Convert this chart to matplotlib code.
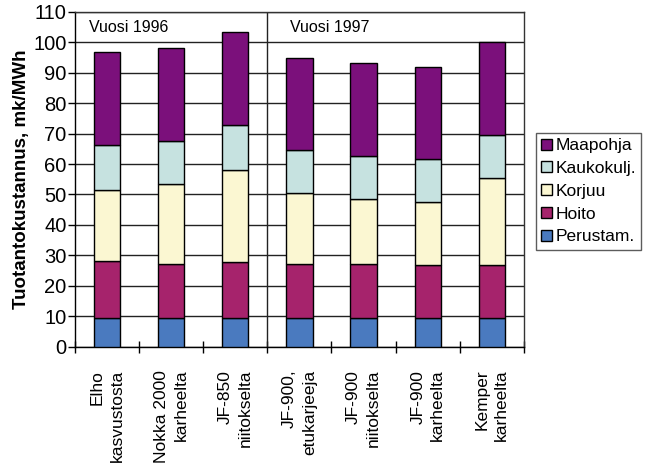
import matplotlib.pyplot as plt
from matplotlib.patches import Patch
import numpy as np

plt.rcParams['font.family'] = ['Liberation Sans', 'DejaVu Sans']

kategoriat = ['Elho\nkasvustosta', 'Nokka 2000\nkarheelta', 'JF-850\nniitokselta',
              'JF-900,\netukarjeeja', 'JF-900\nniitokselta', 'JF-900\nkarheelta',
              'Kemper\nkarheelta']

perustam = [9.6, 9.6, 9.6, 9.6, 9.5, 9.4, 9.4]
hoito = [18.5, 17.6, 18.3, 17.5, 17.6, 17.5, 17.6]
korjuu = [23.4, 26.2, 30.1, 23.3, 21.3, 20.6, 28.5]
kaukokulj = [14.7, 14.2, 14.8, 14.1, 14.3, 14.1, 13.9]
maapohja = [30.4, 30.4, 30.4, 30.4, 30.3, 30.2, 30.5]

sarjat = ['Perustam.', 'Hoito', 'Korjuu', 'Kaukokulj.', 'Maapohja']
arvot = [perustam, hoito, korjuu, kaukokulj, maapohja]
varit = ['#4a7abf', '#a6236c', '#fbf7d2', '#c6e2e0', '#7b107b']

fig = plt.figure(figsize=(6.46, 4.65), dpi=100)
ax = fig.add_axes([0.116, 0.254, 0.695, 0.721])

x = np.arange(len(kategoriat))
pohja = np.zeros(len(kategoriat))
for nimi, v, c in zip(sarjat, arvot, varit):
    ax.bar(x, v, 0.41, bottom=pohja, color=c, edgecolor='black', linewidth=1,
           label=nimi, zorder=3)
    pohja += np.array(v)

ax.set_xlim(-0.5, len(kategoriat) - 0.5)
ax.set_ylim(0, 110)
ax.set_yticks(np.arange(0, 111, 10))
ax.tick_params(axis='y', labelsize=14.5, direction='out', length=5, width=1, pad=1)
ax.yaxis.grid(True, color='#222222', linewidth=1, zorder=0)
ax.set_axisbelow(True)

# ticks between the bars, labels under the bars
ax.set_xticks(np.arange(-0.5, len(kategoriat), 1))
ax.set_xticklabels([])
ax.tick_params(axis='x', direction='inout', length=8, width=1)
for i, lab in enumerate(kategoriat):
    ax.text(i, -7.5, lab, rotation=90, ha='center', va='top',
            multialignment='right', fontsize=12.5, linespacing=1.4)

ax.axvline(2.5, color='#222222', linewidth=1, zorder=2)
ax.text(-0.28, 104.8, 'Vuosi 1996', fontsize=11.5, va='center')
ax.text(2.85, 104.8, 'Vuosi 1997', fontsize=11.5, va='center')

for s in ax.spines.values():
    s.set_color('#333333')
    s.set_linewidth(1)
ax.spines['left'].set_color('black')
ax.spines['bottom'].set_color('black')

ax.set_ylabel('Tuotantokustannus, mk/MWh', fontsize=13.5, fontweight='bold', labelpad=2)

kahvat = [Patch(facecolor=c, edgecolor='black', label=n)
          for n, c in zip(sarjat[::-1], varit[::-1])]
leg = fig.legend(handles=kahvat, loc='upper left', bbox_to_anchor=(0.83, 0.714),
                 fontsize=12.5, frameon=True, fancybox=False, edgecolor='#333333',
                 handlelength=0.6, handleheight=0.6, handletextpad=0.2,
                 labelspacing=0.45, borderpad=0.3, borderaxespad=0)
leg.get_frame().set_linewidth(1)

fig.savefig('out.png', dpi=100)
